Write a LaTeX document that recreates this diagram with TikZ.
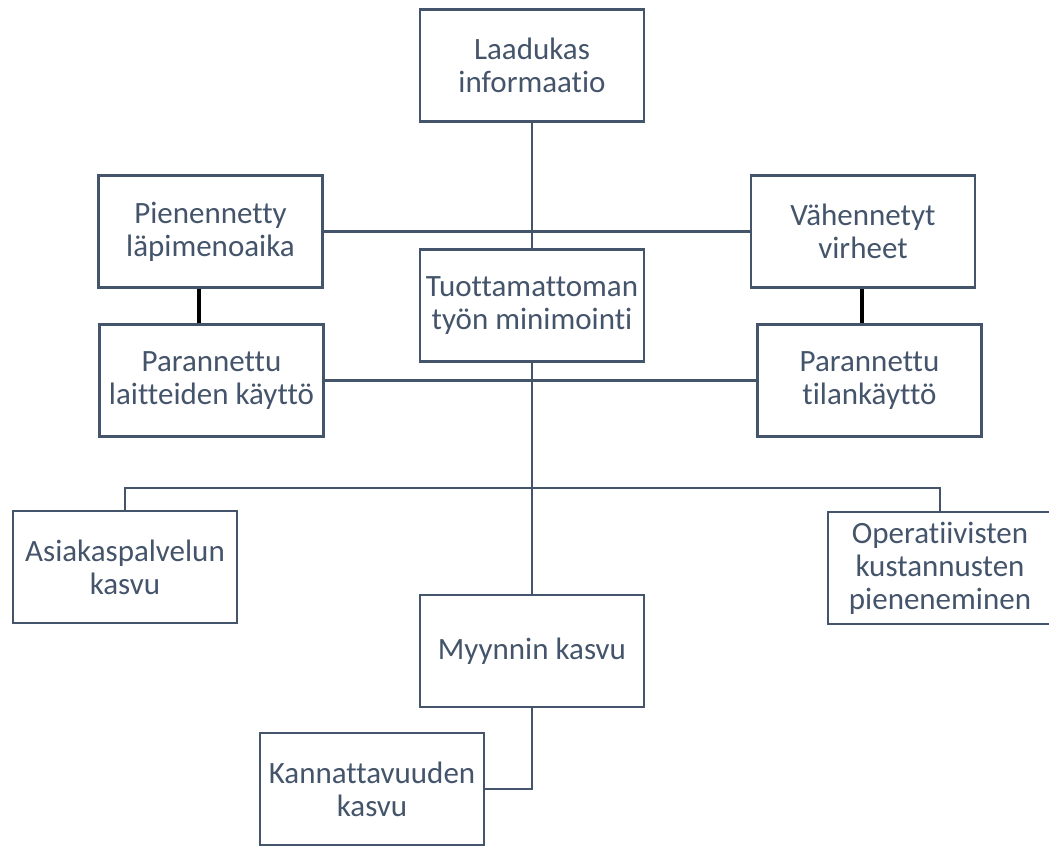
\documentclass[tikz,border=0pt]{standalone}
\usepackage{fontspec}
\setmainfont[RawFeature=-liga, RawFeature=-clig, RawFeature=-calt, RawFeature=-dlig]{Carlito}
\definecolor{slate}{HTML}{44546A}
\begin{document}
\begin{tikzpicture}[x=1pt,y=-1pt,
  box/.style={draw=slate, line width=2.7pt, text=slate, minimum width=224pt, minimum height=112pt,
    inner sep=0pt, align=center, font=\fontsize{31}{33}\selectfont},
  conn/.style={draw=slate, line width=2.7pt},
  bold/.style={draw=black, line width=4pt}]
\useasboundingbox (0,0) rectangle (1049,846);
\node[box] (laad) at (532,65.5) {Laadukas\\informaatio};
\node[box] (pien) at (210.5,231.5) {Pienennetty\\läpimenoaika};
\node[box] (vah) at (863,231.5) {Vähennetyt\\virheet};
\node[box] (tuot) at (532,305.5) {Tuottamattoman\\työn minimointi};
\node[box] (lait) at (211.5,380.5) {Parannettu\\laitteiden käyttö};
\node[box] (tila) at (869.5,380.5) {Parannettu\\tilankäyttö};
\node[box] (asia) at (125,567) {Asiakaspalvelun\\kasvu};
\node[box] (oper) at (940,568) {Operatiivisten\\kustannusten\\pieneneminen};
\node[box] (myyn) at (532,651) {Myynnin kasvu};
\node[box] (kann) at (372,789) {Kannattavuuden\\kasvu};
\coordinate (branch) at (532,488);
\draw[conn] (laad.south) -- (tuot.north);
\draw[conn] (pien.east) -- (vah.west);
\draw[conn] (lait.east) -- (tila.west);
\draw[conn] (tuot.south) -- (myyn.north);
\draw[conn] (asia.north) |- (branch) -| (oper.north);
\draw[conn] (myyn.south) |- (kann.east);
\draw[bold] ([xshift=-11.5pt]pien.south) -- ([xshift=-11.5pt]pien.south |- lait.north);
\draw[bold] ([xshift=-1pt]vah.south) -- ([xshift=-1pt]vah.south |- tila.north);
\end{tikzpicture}
\end{document}
